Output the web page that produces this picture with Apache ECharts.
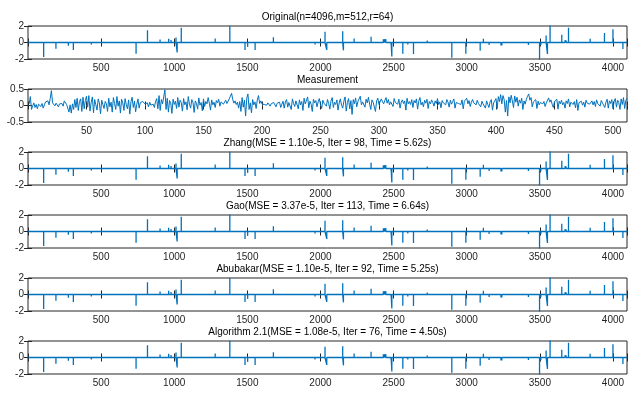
<!DOCTYPE html>
<html>
<head>
<meta charset="utf-8">
<script src="https://cdn.jsdelivr.net/npm/echarts@6/dist/echarts.min.js"></script>
<style>
  html, body { margin: 0; padding: 0; background: #fff; }
  #chart { width: 644px; height: 396px; }
</style>
</head>
<body>
<div id="chart"></div>
<script>
// sparse signal, n = 4096: spike positions and heights
const spikeIdx = [107, 191, 276, 310, 413, 433, 739, 817, 903, 944, 962, 978, 1012, 1020, 1048,
  1280, 1380, 1484, 1502, 1553, 1678, 1963, 2031, 2043, 2152, 2157, 2230, 2346, 2430, 2438, 2447,
  2483, 2488, 2563, 2597, 2636, 2730, 2898, 2994, 3092, 3114, 3153, 3234, 3240, 3422, 3498, 3507,
  3543, 3552, 3570, 3650, 3673, 3680, 3696, 3844, 3942, 4000, 4068];
const spikeVal = [-1.75, -0.75, -0.4, -0.9, -0.15, -0.25, -1.35, 1.5, 0.35, 0.1, 0.45, 0.3, 0.6, -1.2, 1.8,
  0.5, 2.05, -0.9, -0.5, -0.9, 0.65, -0.25, 1.3, -0.9, 1.35, -0.95, 0.5, 0.7, 0.4, 0.4, 0.4,
  -0.3, -1.7, -1.35, -0.25, -1.4, 0.25, -1.85, -1.35, -1.0, 0.45, -0.3, -0.35, -0.35, -0.3, -2.1, -0.3,
  0.85, -1.4, 2.1, 0.95, 0.3, 0.25, 1.8, 0.45, 1.15, 1.6, -0.8];

// measurement, m = 512
const measurement = [
  0.05, 0.27, -0.12, -0.02, 0.08, -0.06, 0.03, -0.10, 0.04, 0.09, -0.03, 0.06, -0.08, 0.02, 0.11, 0.05,
  0.14, 0.02, 0.21, 0.45, 0.08, 0.12, -0.01, 0.07, 0.03, -0.04, 0.05, 0.01, 0.06, -0.02, 0.14, 0.10,
  0.03, -0.08, -0.20, 0.02, -0.23, 0.05, -0.12, 0.18, -0.06, 0.22, -0.15, 0.12, 0.20, -0.18, 0.25, -0.10,
  0.15, 0.28, -0.05, 0.30, -0.17, 0.09, 0.26, -0.22, 0.18, 0.02, -0.14, 0.20, 0.08, -0.25, 0.16, 0.03,
  -0.09, 0.12, 0.05, -0.18, 0.22, -0.04, 0.10, -0.20, 0.24, 0.06, -0.12, 0.27, -0.02, 0.14, -0.23, 0.19,
  0.08, -0.15, 0.21, 0.02, -0.10, 0.17, -0.26, 0.11, 0.25, -0.06, 0.13, -0.19, 0.04, 0.20, -0.08, 0.09,
  0.03, 0.12, 0.06, 0.05, 0.02, 0.08, -0.04, 0.10, 0.01, 0.07, 0.04, -0.06, 0.12, 0.21, -0.10, 0.30,
  -0.15, 0.18, 0.05, 0.26, 0.48, -0.12, 0.22, -0.20, 0.15, 0.08, -0.24, 0.19, 0.03, 0.13, -0.09, 0.24,
  -0.05, 0.16, 0.09, -0.17, 0.21, 0.02, 0.11, -0.13, 0.27, 0.04, -0.08, 0.18, 0.10, -0.21, 0.14, 0.06,
  -0.11, 0.23, 0.01, 0.09, -0.16, 0.20, -0.03, 0.12, 0.05, 0.24, 0.07, -0.14, 0.17, 0.02, 0.10, -0.06,
  0.15, 0.08, 0.19, -0.02, 0.11, 0.13, 0.04, 0.09, 0.16, 0.06, 0.12, 0.20, 0.28, 0.37, 0.18, 0.07,
  0.14, 0.03, 0.10, -0.08, 0.12, -0.18, 0.24, -0.05, 0.16, -0.32, 0.22, 0.35, -0.12, 0.08, -0.22, 0.18,
  0.02, 0.11, -0.09, 0.17, 0.30, 0.06, 0.14, 0.05, 0.09, 0.03, 0.07, 0.01, 0.08, 0.04, -0.02, 0.06,
  0.03, 0.09, 0.05, -0.04, 0.07, 0.02, 0.10, -0.06, 0.04, 0.13, -0.08, 0.11, 0.18, -0.05, 0.09, 0.15,
  -0.12, 0.20, 0.06, -0.03, 0.14, 0.08, -0.10, 0.17, 0.02, 0.12, -0.15, 0.22, 0.05, 0.09, 0.26, -0.07,
  0.13, 0.04, -0.18, 0.19, 0.08, 0.15, -0.04, 0.11, 0.21, 0.03, -0.09, 0.16, 0.07, 0.12, -0.02, 0.18,
  0.06, -0.11, 0.14, 0.24, -0.06, 0.10, 0.03, 0.17, -0.14, 0.08, 0.20, 0.01, -0.08, 0.13, 0.26, -0.17,
  0.09, 0.21, -0.10, 0.15, -0.27, 0.18, 0.05, 0.23, -0.04, 0.12, 0.07, 0.28, 0.02, 0.11, 0.16, -0.05,
  0.19, 0.08, 0.25, 0.04, -0.12, 0.17, 0.10, 0.06, -0.18, 0.14, 0.22, 0.03, 0.09, 0.20, 0.12, 0.05,
  0.15, 0.24, 0.07, 0.18, 0.02, 0.11, 0.16, -0.03, 0.21, 0.09, 0.13, 0.04, 0.19, -0.08, 0.10, 0.17,
  0.06, 0.14, -0.14, 0.22, 0.05, 0.12, 0.03, 0.18, -0.06, 0.15, 0.08, 0.20, -0.11, 0.13, 0.24, 0.02,
  0.10, -0.04, 0.16, 0.07, 0.19, -0.09, 0.12, 0.05, 0.17, 0.09, -0.02, 0.14, 0.06, 0.21, 0.03, 0.11,
  -0.07, 0.15, 0.08, 0.13, 0.02, 0.18, 0.10, -0.05, 0.16, 0.04, 0.12, 0.20, -0.08, 0.09, 0.14, 0.06,
  0.11, 0.03, 0.17, -0.10, 0.13, 0.07, 0.22, 0.05, 0.15, -0.03, 0.10, 0.18, 0.08, 0.12, 0.02, 0.16,
  0.06, 0.09, -0.04, 0.13, 0.05, 0.10, -0.08, 0.14, 0.03, -0.06, 0.11, 0.18, -0.14, 0.08, 0.04, 0.21,
  -0.10, 0.27, 0.12, 0.33, 0.05, 0.30, 0.18, -0.20, 0.15, -0.32, 0.26, 0.08, 0.31, 0.14, -0.06, 0.29,
  0.10, 0.25, -0.02, 0.17, 0.07, 0.22, -0.12, 0.14, 0.04, 0.19, 0.28, 0.35, 0.16, 0.24, -0.04, 0.11,
  0.06, 0.18, -0.09, 0.13, 0.02, 0.09, 0.15, 0.05, 0.12, -0.03, 0.08, 0.14, 0.23, 0.10, 0.17, 0.04,
  -0.06, 0.11, 0.07, 0.19, -0.11, 0.13, 0.05, 0.16, 0.02, 0.09, -0.08, 0.14, 0.06, 0.20, -0.04, 0.10,
  0.15, 0.03, 0.12, -0.07, 0.18, -0.15, 0.09, 0.05, 0.13, 0.01, 0.10, -0.05, 0.16, 0.07, 0.11, 0.04,
  0.09, 0.14, 0.02, 0.12, -0.03, 0.17, 0.06, 0.11, -0.02, 0.15, 0.08, 0.13, -0.06, 0.10, 0.19, -0.08,
  0.14, 0.06, 0.18, -0.10, 0.12, 0.21, -0.05, 0.16, 0.09, -0.12, 0.20, 0.03, 0.24, -0.09, 0.15, 0.22
];

const titles = [
  "Original(n=4096,m=512,r=64)",
  "Measurement",
  "Zhang(MSE = 1.10e-5, Iter = 98, Time = 5.62s)",
  "Gao(MSE = 3.37e-5, Iter = 113, Time = 6.64s)",
  "Abubakar(MSE = 1.10e-5, Iter = 92, Time = 5.25s)",
  "Algorithm 2.1(MSE = 1.08e-5, Iter = 76, Time = 4.50s)"
];

const n = 4096;
const m = 512;

const chart = echarts.init(document.getElementById("chart"));

// zero baseline with a vertical stroke at every spike
const sparse = [[1, 0]];
spikeIdx.forEach((p, k) => {
  sparse.push([p, 0], [p, spikeVal[k]], [p, 0]);
});
sparse.push([n, 0]);

const meas = measurement.map((v, i) => [i + 1, v]);

const LEFT = 28, WIDTH = 599, H = 33;
const tops = [26, 89, 152, 215, 278, 341];
const axisColor = "#262626";
const font = "Liberation Sans, Arial, sans-serif";

const grids = [], xAxes = [], yAxes = [], series = [], graphics = [];

tops.forEach((top, g) => {
  const isMeas = g === 1;
  grids.push({ left: LEFT, top: top, width: WIDTH, height: H, show: true,
    borderColor: axisColor, borderWidth: 1, backgroundColor: "#fff" });

  const xMax = isMeas ? m : n;
  const xStep = isMeas ? 50 : 500;
  const tick = { show: true, inside: true, length: 4, lineStyle: { color: axisColor } };
  const xLabel = {
    show: true, color: axisColor, fontSize: 10, fontFamily: font, margin: 4,
    formatter: (v) => (v > 0 && v % xStep === 0 ? String(v) : "")
  };
  xAxes.push({ type: "value", gridIndex: g, min: 0, max: xMax, interval: xStep,
    axisLine: { show: false }, axisTick: tick, axisLabel: xLabel, splitLine: { show: false } });
  xAxes.push({ type: "value", gridIndex: g, position: "top", min: 0, max: xMax, interval: xStep,
    axisLine: { show: false }, axisTick: tick, axisLabel: { show: false }, splitLine: { show: false } });

  const yLim = isMeas ? 0.5 : 2;
  const yLabel = { show: true, color: axisColor, fontSize: 10, fontFamily: font, margin: 4 };
  yAxes.push({ type: "value", gridIndex: g, min: -yLim, max: yLim, interval: yLim,
    axisLine: { show: false }, axisTick: tick, axisLabel: yLabel, splitLine: { show: false } });
  yAxes.push({ type: "value", gridIndex: g, position: "right", min: -yLim, max: yLim, interval: yLim,
    axisLine: { show: false }, axisTick: tick, axisLabel: { show: false }, splitLine: { show: false } });

  series.push({
    type: "line", xAxisIndex: g * 2, yAxisIndex: g * 2,
    data: isMeas ? meas : sparse,
    showSymbol: false, symbol: "none", sampling: null,
    lineStyle: { color: "#0072BD", width: isMeas ? 1 : 1.3 },
    animation: false, silent: true, clip: true
  });

  graphics.push({
    type: "text", x: LEFT + WIDTH / 2, y: top - 9,
    style: { text: titles[g], font: "10px " + font, fill: "#000",
      textAlign: "center", textVerticalAlign: "middle" }
  });
});

chart.setOption({
  animation: false,
  grid: grids,
  xAxis: xAxes,
  yAxis: yAxes,
  series: series,
  graphic: graphics
});
</script>
</body>
</html>
